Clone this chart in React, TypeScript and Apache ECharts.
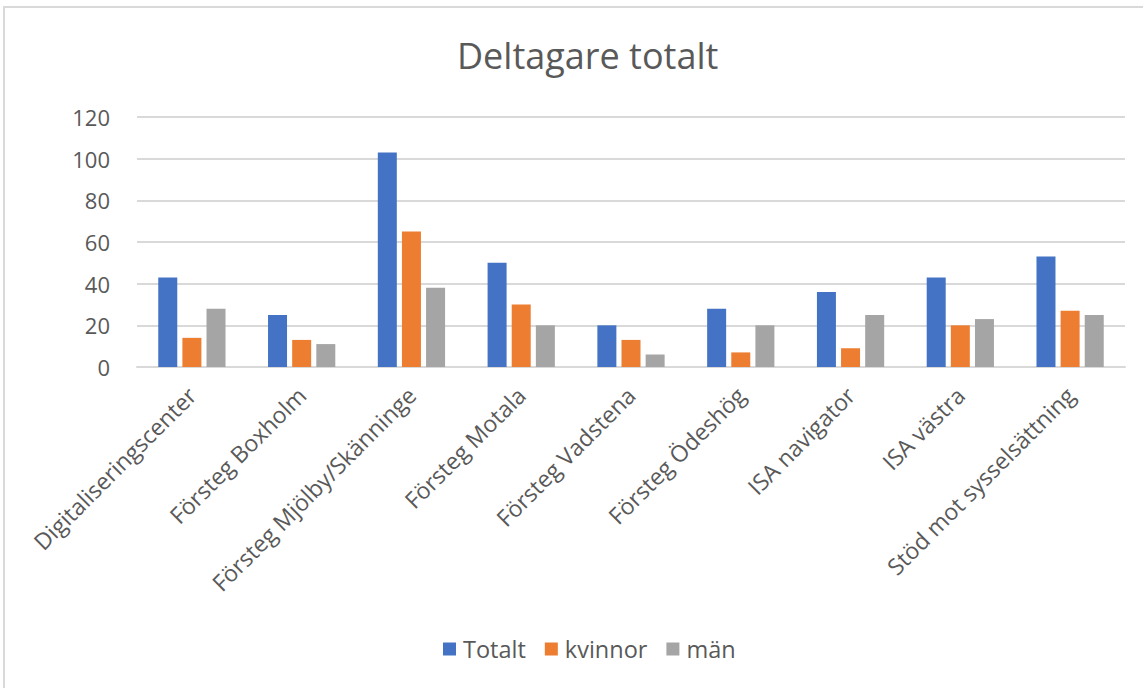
import React, { useEffect, useRef } from "react";
import * as echarts from "echarts";

const categories = [
  "Digitaliseringscenter",
  "Försteg Boxholm",
  "Försteg Mjölby/Skänninge",
  "Försteg Motala",
  "Försteg Vadstena",
  "Försteg Ödeshög",
  "ISA navigator",
  "ISA västra",
  "Stöd mot sysselsättning",
];
const totalt = [43, 25, 103, 50, 20, 28, 36, 43, 53];
const kvinnor = [14, 13, 65, 30, 13, 7, 9, 20, 27];
const man = [28, 11, 38, 20, 6, 20, 25, 23, 25];
const yTicks = [0, 20, 40, 60, 80, 100, 120];

const FONT = "'Open Sans', sans-serif";
const TXT = "#595959";

export default function App() {
  const ref = useRef<HTMLDivElement>(null);
  useEffect(() => {
    document.body.style.margin = "0";
    const chart = echarts.init(ref.current!, undefined, { renderer: "svg" });
    const mk = (name: string, data: number[], color: string) => ({
      name,
      type: "bar",
      data,
      barWidth: 19,
      barGap: "27%",
      itemStyle: { color },
    });
    chart.setOption({
      animation: false,
      backgroundColor: "#ffffff",
      title: {
        text: "Deltagare totalt",
        left: 452,
        top: 32,
        textStyle: { fontFamily: FONT, fontSize: 36, fontWeight: "normal", color: TXT },
      },
      graphic: [
        {
          type: "rect",
          shape: { x: 4, y: 7, width: 1160, height: 700 },
          style: { fill: "none", stroke: "#d9d9d9", lineWidth: 2 },
          silent: true,
        },
      ],
      legend: {
        bottom: 22,
        left: 438,
        itemWidth: 13,
        itemHeight: 13,
        itemGap: 19,
        icon: "rect",
        textStyle: { fontFamily: FONT, fontSize: 23.5, color: TXT, padding: [0, 0, 0, 2] },
      },
      grid: { left: 137, right: 18, top: 117, bottom: 321 },
      xAxis: {
        type: "category",
        data: categories,
        axisLine: { lineStyle: { color: "#d9d9d9", width: 2 } },
        axisTick: { show: false },
        axisLabel: {
          rotate: 45,
          margin: 24,
          fontFamily: FONT,
          fontSize: 23,
          color: TXT,
          interval: 0,
        },
      },
      yAxis: {
        type: "value",
        min: yTicks[0],
        max: yTicks[yTicks.length - 1],
        interval: 20,
        axisLine: { show: false },
        axisTick: { show: false },
        splitLine: { lineStyle: { color: "#d9d9d9", width: 2 } },
        axisLabel: { margin: 27, fontFamily: FONT, fontSize: 22, color: TXT },
      },
      series: [
        mk("Totalt", totalt, "#4472C4"),
        mk("kvinnor", kvinnor, "#ED7D31"),
        mk("män", man, "#A5A5A5"),
      ],
    });
    return () => chart.dispose();
  }, []);
  return <div ref={ref} style={{ width: 1143, height: 688 }} />;
}
